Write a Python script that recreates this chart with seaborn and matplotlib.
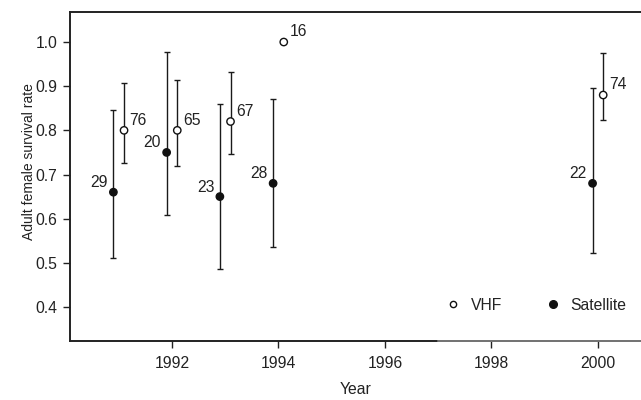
import matplotlib
matplotlib.use("Agg")
import matplotlib.pyplot as plt
import seaborn as sns
import pandas as pd
import numpy as np

# Satellite collars (filled)
sat_year = [1990.9, 1991.9, 1992.9, 1993.9, 1999.9]
sat_rate = [0.66, 0.75, 0.65, 0.68, 0.68]
sat_low = [0.512, 0.608, 0.487, 0.535, 0.523]
sat_high = [0.846, 0.978, 0.859, 0.870, 0.895]
sat_n = ["29", "20", "23", "28", "22"]

# VHF collars (open)
vhf_year = [1991.1, 1992.1, 1993.1, 1994.1, 2000.1]
vhf_rate = [0.80, 0.80, 0.82, 1.00, 0.88]
vhf_low = [0.727, 0.720, 0.746, np.nan, 0.823]
vhf_high = [0.907, 0.914, 0.932, np.nan, 0.975]
vhf_n = ["76", "65", "67", "16", "74"]

x_ticks = [1992, 1994, 1996, 1998, 2000]
y_ticks = [0.4, 0.5, 0.6, 0.7, 0.8, 0.9, 1.0]

sns.set_theme(style="ticks")
plt.rcParams["font.family"] = ["Liberation Sans", "DejaVu Sans"]

FS = 11.3
INK = "#222222"

df = pd.concat([
    pd.DataFrame({"Year": sat_year, "rate": sat_rate, "lo": sat_low, "hi": sat_high,
                  "n": sat_n, "type": "Satellite"}),
    pd.DataFrame({"Year": vhf_year, "rate": vhf_rate, "lo": vhf_low, "hi": vhf_high,
                  "n": vhf_n, "type": "VHF"}),
], ignore_index=True)

fig = plt.figure(figsize=(6.41, 4.0), dpi=100)
ax = fig.add_axes([70 / 641, 59 / 400, 571 / 641, 329 / 400])

# confidence intervals
for _, r in df.dropna(subset=["lo"]).iterrows():
    ax.errorbar(r["Year"], r["rate"],
                yerr=[[r["rate"] - r["lo"]], [r["hi"] - r["rate"]]],
                fmt="none", ecolor="#1a1a1a", elinewidth=1.0, capsize=2, capthick=1.0, zorder=2)

sns.scatterplot(data=df, x="Year", y="rate", hue="type", style="type",
                hue_order=["VHF", "Satellite"],
                palette={"VHF": "white", "Satellite": "#111111"},
                markers={"VHF": "o", "Satellite": "o"},
                edgecolor="#111111", linewidth=1.0, s=28, ax=ax, zorder=3, legend=False)

# sample sizes
for _, r in df.iterrows():
    if r["type"] == "Satellite":
        ax.annotate(r["n"], (r["Year"], r["rate"]), xytext=(-4, 1.5), textcoords="offset points",
                    ha="right", va="bottom", fontsize=FS, color=INK)
    else:
        ax.annotate(r["n"], (r["Year"], r["rate"]), xytext=(4, 2), textcoords="offset points",
                    ha="left", va="bottom", fontsize=FS, color=INK)

# legend
h_vhf = plt.Line2D([], [], ls="none", marker="o", ms=4.5, mfc="white", mec="#111111", mew=1.0)
h_sat = plt.Line2D([], [], ls="none", marker="o", ms=5.5, mfc="#111111", mec="#111111")
ax.legend([h_vhf, h_sat], ["VHF", "Satellite"], ncol=2, frameon=False, loc="center left",
          bbox_to_anchor=(0.657, 0.109), borderaxespad=0, borderpad=0, fontsize=FS,
          handletextpad=0.65, columnspacing=2.7, handlelength=1.0, labelcolor=INK)

ax.set_xlim(1990.085, 2000.81)
ax.set_ylim(0.323, 1.068)
ax.set_xticks(x_ticks)
ax.set_yticks(y_ticks)
ax.set_yticklabels([f"{v:.1f}" for v in y_ticks])
ax.tick_params(axis="both", direction="out", length=5, width=1, color=INK,
               labelsize=FS, labelcolor=INK, pad=4)
ax.tick_params(axis="x", pad=6)
ax.set_xlabel("Year", fontsize=FS, color=INK, labelpad=8)
ax.set_ylabel("Adult female survival rate", fontsize=10, color=INK)
ax.yaxis.set_label_coords(-0.06, 0.544)

for side in ["left", "top", "bottom"]:
    ax.spines[side].set_color(INK)
    ax.spines[side].set_linewidth(1.4)
ax.spines["right"].set_visible(False)
# lighter stretch of the bottom axis line
ax.plot([1997, 2000.81], [0, 0], transform=ax.get_xaxis_transform(), color="#777777",
        lw=1.4, clip_on=False, zorder=5)

fig.savefig("out.png", dpi=100)
